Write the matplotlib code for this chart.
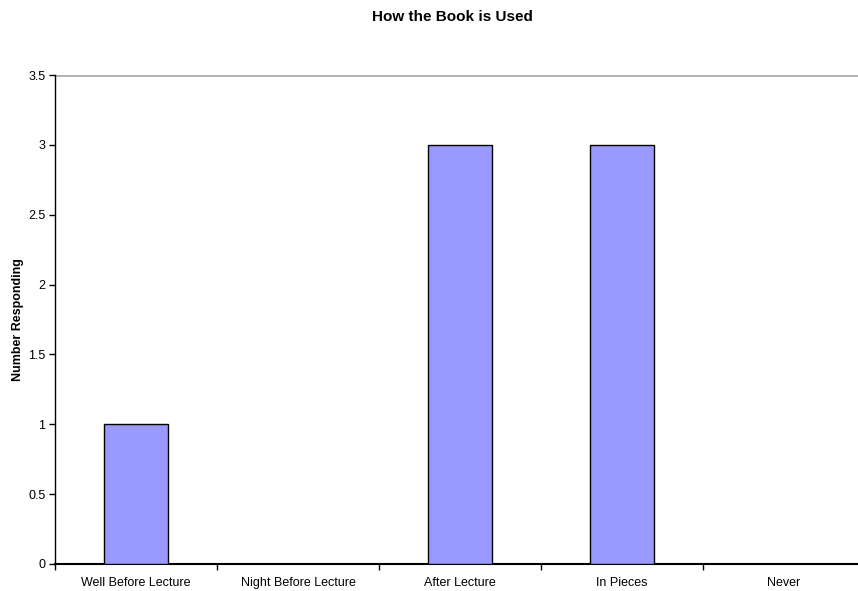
import matplotlib
matplotlib.use("Agg")
import matplotlib.pyplot as plt
import numpy as np

plt.rcParams['font.family'] = ['Liberation Sans', 'DejaVu Sans']

categories = ['Well Before Lecture', 'Night Before Lecture', 'After Lecture',
              'In Pieces', 'Never']
responses = [1, 0, 3, 3, 0]
y_ticks = [0, 0.5, 1, 1.5, 2, 2.5, 3, 3.5]
y_tick_labels = ['0', '0.5', '1', '1.5', '2', '2.5', '3', '3.5']

W, H = 858, 591
fig = plt.figure(figsize=(W / 100, H / 100), dpi=100)
# plot area runs a little past the right edge, as in the original
ax = fig.add_axes([55 / W, (H - 564) / H, 810 / W, 489 / H])

x = np.arange(len(categories))
ax.bar(x, responses, width=0.39, color='#9999ff', edgecolor='black',
       linewidth=1, zorder=3)

ax.set_xlim(-0.5, len(categories) - 0.5)
ax.set_ylim(0, 3.5)
ax.set_yticks(y_ticks)
ax.set_yticklabels(y_tick_labels, fontsize=9)

# category labels between boundary ticks, all on one baseline
ax.set_xticks(np.arange(len(categories) + 1) - 0.5)
ax.set_xticklabels([])
ax.set_xticks(x, minor=True)
ax.set_xticklabels(categories, minor=True, fontsize=9, va='baseline')
ax.tick_params(axis='x', which='minor', length=0, pad=15.5)
ax.tick_params(axis='x', which='major', length=4, width=1, direction='out')
ax.tick_params(axis='y', length=4, width=1, direction='out', pad=3)

ax.axhline(3.5, color='#b0b0b0', linewidth=2, zorder=1)
for side in ['top', 'right']:
    ax.spines[side].set_visible(False)
ax.spines['left'].set_linewidth(1)
ax.spines['bottom'].set_linewidth(1.5)

ax.set_ylabel('Number Responding', fontsize=9, fontweight='bold')
ax.yaxis.set_label_coords((24 - 55) / 810, 0.5)
fig.text(452 / W, 1 - 17 / H, 'How the Book is Used', ha='center', va='center',
         fontsize=11, fontweight='bold')

fig.savefig('out.png', dpi=100)
